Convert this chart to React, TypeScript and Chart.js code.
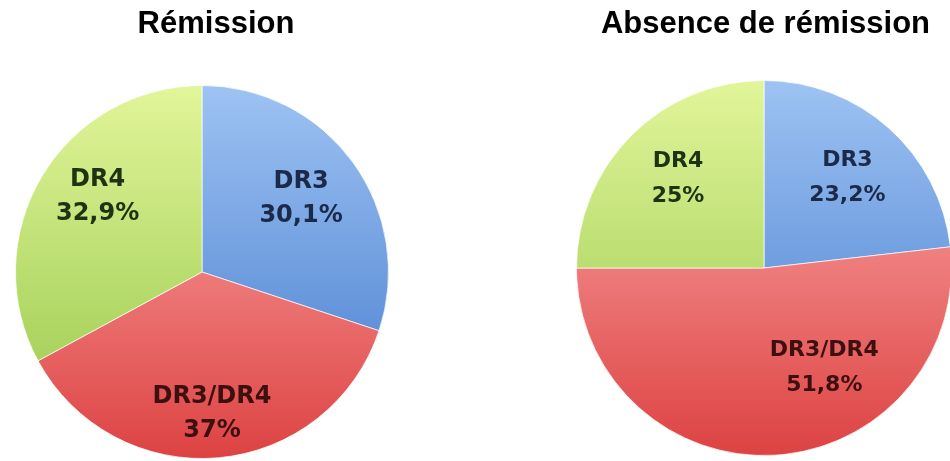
import React, { useEffect, useRef } from "react";
import { Chart, registerables } from "chart.js";

Chart.register(...registerables);

// ---- Data ----
const categories = ["DR3", "DR3/DR4", "DR4"];
const remissionValues = [30.1, 37, 32.9];
const absenceValues = [23.2, 51.8, 25];
const chartTitles = ["Rémission", "Absence de rémission"];

// ---- Styles ----
const gradientStops: [string, string][] = [
  ["#9ec3f3", "#4077cc"], // DR3 blue
  ["#ffb2b2", "#dd4242"], // DR3/DR4 red
  ["#e2f59a", "#93c647"], // DR4 green
];
const labelColors = ["#1b2a4a", "#3d1010", "#1e3311"];

const formatPct = (v: number) => String(v).replace(".", ",") + "%";

const heading = {
  id: "heading",
  afterDraw(chart: any, _args: any, opts: any) {
    const ctx = chart.ctx as CanvasRenderingContext2D;
    const area = chart.chartArea;
    ctx.save();
    ctx.font = opts.font;
    ctx.fillStyle = "#000000";
    ctx.textAlign = "center";
    ctx.textBaseline = "middle";
    ctx.fillText(opts.text, (area.left + area.right) / 2 + opts.dx, opts.y);
    ctx.restore();
  },
};

const sliceLabels = {
  id: "sliceLabels",
  afterDatasetsDraw(chart: any, _args: any, opts: any) {
    const meta = chart.getDatasetMeta(0);
    const ctx = chart.ctx as CanvasRenderingContext2D;
    const values = chart.data.datasets[0].data as number[];
    const labels = chart.data.labels as string[];
    ctx.save();
    ctx.font = opts.font;
    ctx.textAlign = "center";
    ctx.textBaseline = "middle";
    meta.data.forEach((arc: any, i: number) => {
      const p = arc.getProps(["x", "y", "startAngle", "endAngle", "outerRadius"], true);
      const a = (p.startAngle + p.endAngle) / 2 + ((opts.angleNudge[i] || 0) * Math.PI) / 180;
      const r = p.outerRadius * opts.radiusFactor[i];
      const cx = p.x + Math.cos(a) * r;
      const cy = p.y + Math.sin(a) * r;
      ctx.fillStyle = labelColors[i];
      ctx.fillText(labels[i], cx, cy - opts.lineGap / 2);
      ctx.fillText(formatPct(values[i]), cx, cy + opts.lineGap / 2);
    });
    ctx.restore();
  },
};

type PieProps = {
  title: string;
  values: number[];
  left: number;
  width: number;
  padding: { left: number; right: number; top: number; bottom: number };
  titleDx: number;
  labelFont: string;
  lineGap: number;
  radiusFactor: number[];
  angleNudge: number[];
};

function PieChart(props: PieProps) {
  const ref = useRef<HTMLCanvasElement | null>(null);
  useEffect(() => {
    if (!ref.current) return;
    const chart = new Chart(ref.current, {
      type: "pie",
      data: {
        labels: categories,
        datasets: [
          {
            data: props.values,
            backgroundColor: (c: any) => {
              const ch = c.chart;
              const area = ch.chartArea;
              const stops = gradientStops[c.dataIndex];
              if (!area) return stops[1];
              const g = ch.ctx.createLinearGradient(0, area.top, 0, area.bottom);
              g.addColorStop(0, stops[0]);
              g.addColorStop(1, stops[1]);
              return g;
            },
            borderColor: "rgba(255,255,255,0.7)",
            borderWidth: 1,
          },
        ],
      },
      options: {
        responsive: false,
        animation: false,
        layout: { padding: props.padding },
        plugins: {
          legend: { display: false },
          tooltip: { enabled: false },
          title: { display: false },
          heading: {
            text: props.title,
            font: "bold 31px 'Liberation Sans', Arial, sans-serif",
            dx: props.titleDx,
            y: 24.5,
          },
          sliceLabels: {
            font: props.labelFont,
            lineGap: props.lineGap,
            radiusFactor: props.radiusFactor,
            angleNudge: props.angleNudge,
          },
        } as any,
      },
      plugins: [sliceLabels as any, heading as any],
    });
    return () => chart.destroy();
  }, []);
  return (
    <canvas
      ref={ref}
      width={props.width}
      height={461}
      style={{ position: "absolute", left: props.left, top: 0, width: props.width, height: 461 }}
    />
  );
}

export default function App() {
  return (
    <div
      style={{
        position: "fixed",
        left: 0,
        top: 0,
        width: 950,
        height: 461,
        overflow: "hidden",
        background: "#ffffff",
      }}
    >
      <PieChart
        title={chartTitles[0]}
        values={remissionValues}
        left={0}
        width={432}
        padding={{ left: 15, right: 43, top: 85, bottom: 2 }}
        titleDx={14}
        labelFont="bold 24px 'DejaVu Sans', sans-serif"
        lineGap={34}
        radiusFactor={[0.66, 0.76, 0.69]}
        angleNudge={[-0.6, 1, 5]}
      />
      <PieChart
        title={chartTitles[1]}
        values={absenceValues}
        left={540}
        width={451}
        padding={{ left: 36, right: 39, top: 80, bottom: 5 }}
        titleDx={1.5}
        labelFont="bold 22px 'DejaVu Sans', sans-serif"
        lineGap={35}
        radiusFactor={[0.655, 0.62, 0.66]}
        angleNudge={[1, -28, 1]}
      />
    </div>
  );
}
